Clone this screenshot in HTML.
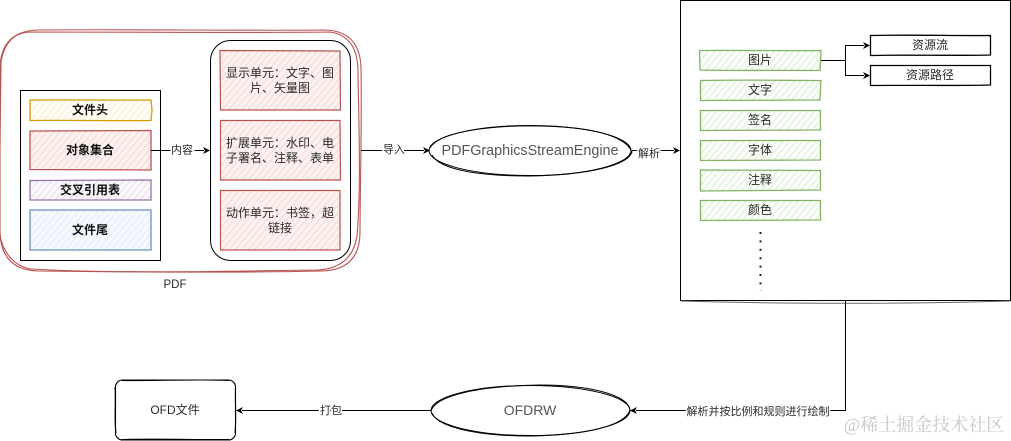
<!DOCTYPE html>
<html lang="zh">
<head>
<meta charset="utf-8">
<style>
html,body{margin:0;padding:0;background:#fff;width:1011px;height:441px;overflow:hidden}
svg{display:block}
text{font-family:"Liberation Sans","Noto Sans CJK SC",sans-serif;font-size:12px;fill:#2a2a2a;text-anchor:middle}
.b{font-weight:bold;fill:#111}
.lbl{font-size:11px;paint-order:stroke;stroke:#fff;stroke-width:3px}
</style>
</head>
<body>
<svg width="1011" height="441" viewBox="0 0 1011 441" xmlns="http://www.w3.org/2000/svg">
<defs>
<pattern id="hr" width="5" height="5" patternUnits="userSpaceOnUse" patternTransform="rotate(-50)"><rect width="5" height="5" fill="#fcf3f1"/><rect width="5" height="1.500" fill="#f6dfdc"/></pattern>
<pattern id="hy" width="5" height="5" patternUnits="userSpaceOnUse" patternTransform="rotate(-50)"><rect width="5" height="5" fill="#fffdf6"/><rect width="5" height="1.500" fill="#fcf3dc"/></pattern>
<pattern id="hp" width="5" height="5" patternUnits="userSpaceOnUse" patternTransform="rotate(-50)"><rect width="5" height="5" fill="#faf8fb"/><rect width="5" height="1.500" fill="#ece5ef"/></pattern>
<pattern id="hb" width="5" height="5" patternUnits="userSpaceOnUse" patternTransform="rotate(-50)"><rect width="5" height="5" fill="#f6fafe"/><rect width="5" height="1.500" fill="#e6f0fa"/></pattern>
<pattern id="hg" width="5" height="5" patternUnits="userSpaceOnUse" patternTransform="rotate(-50)"><rect width="5" height="5" fill="#fbfdf9"/><rect width="5" height="1.500" fill="#e6f1e1"/></pattern>
</defs>

<!-- Right panel -->
<rect x="680.500" y="0.500" width="330" height="300" fill="#fff" stroke="#000" stroke-width="1"/>
<path d="M681 301 C780 304 910 304 1010 301" fill="none" stroke="#666" stroke-width="1"/>

<!-- Outer PDF sketch -->
<g fill="none" stroke="#b85450" stroke-width="1.100">
<path d="M38 30 C130 29 250 31 325 30 Q360 31 361 68 C362 130 360 190 360 232 Q360 270 322 271 C230 273 120 272 38 271 Q1 270 0 232 L0 68 Q1 31 38 30Z"/>
<path d="M30 32 C130 32 250 33 330 32 Q358 36 358 72 C359 130 361 190 357 236 Q352 268 318 270 C230 271 120 274 30 269 Q2 262 -1 228 L1 62 Q6 33 30 32Z"/>
</g>
<text x="175" y="288" style="font-size:11.500px">PDF</text>

<!-- PDF structure -->
<rect x="20.500" y="90.500" width="140" height="170" fill="#fff" stroke="#000" stroke-width="1"/>
<g stroke-width="1.300">
<path d="M30 100 C70 99.500 120 100.500 151 100 L152 110 L151 120.500 C110 121 70 120 30 120.500Z" fill="url(#hy)" stroke="#d79b00"/>
<path d="M30 131 L151 130.500 L151 170 L30 169.500Z" fill="url(#hr)" stroke="#b85450"/>
<path d="M30 180.500 L151 180 L151 200 L30 200Z" fill="url(#hp)" stroke="#9673a6"/>
<path d="M30 210 L151 210 L151 250 L30 250Z" fill="url(#hb)" stroke="#6c8ebf"/>
</g>
<text class="b" x="90" y="114">文件头</text>
<text class="b" x="90" y="154">对象集合</text>
<text class="b" x="90" y="194">交叉引用表</text>
<text class="b" x="90" y="234">文件尾</text>

<!-- Unit container -->
<rect x="210.500" y="40.500" width="140" height="220" rx="20" fill="#fff" stroke="#000" stroke-width="1"/>
<g fill="url(#hr)" stroke="#b85450" stroke-width="1.200">
<path d="M220 50.500 L340 51 L340.500 110 L220.500 110Z"/>
<path d="M220.500 120.500 L340 120.500 L340.500 180 L220.500 180Z"/>
<path d="M220.500 190.500 L340 190.500 L340 250 L220.500 250Z"/>
</g>
<text x="280" y="77">显示单元：文字、图</text>
<text x="280" y="92">片、矢量图</text>
<text x="280" y="147">扩展单元：水印、电</text>
<text x="280" y="162">子署名、注释、表单</text>
<text x="280" y="217">动作单元：书签，超</text>
<text x="280" y="232">链接</text>

<!-- Green boxes -->
<g fill="url(#hg)" stroke="#82b366" stroke-width="1.300">
<path d="M699.500 50.500 C740 50 790 51 821 50.500 L820 70.500 C780 70 740 71 700 70Z"/>
<path d="M700.500 80.500 C740 79.500 790 80.500 821 80.500 L820 100 L700.500 100.500Z"/>
<path d="M700.500 110.500 L820.500 110.500 L820.500 130 L700.500 130.500Z"/>
<path d="M700.500 140.500 L820.500 140.500 L820.500 160 L700.500 160.500Z"/>
<path d="M700.500 170 L820.500 170.500 L820.500 190 L700.500 191Z"/>
<path d="M700.500 200.500 L820.500 200.500 L820.500 220 L700.500 220.500Z"/>
</g>
<text x="760" y="64">图片</text>
<text x="760" y="94">文字</text>
<text x="760" y="124">签名</text>
<text x="760" y="154">字体</text>
<text x="760" y="184">注释</text>
<text x="760" y="214">颜色</text>
<path d="M760.500 232V291" fill="none" stroke="#222" stroke-width="2" stroke-dasharray="2 6.400"/>

<!-- Resource boxes -->
<g fill="#fff" stroke="#000" stroke-width="1.300">
<path d="M870.500 35.500 C910 34.500 960 36 990.500 35.500 L990.500 55 C950 56 910 54.500 870.500 55.500Z"/>
<path d="M870.500 65.500 L990.500 65.500 L990.500 85 C950 86 910 85 870.500 85.500Z"/>
</g>
<text x="930" y="49">资源流</text>
<text x="930" y="79">资源路径</text>

<!-- Ellipse 1 -->
<g fill="none" stroke="#000" stroke-width="1">
<ellipse cx="530" cy="150.500" rx="101" ry="25" fill="#fff"/>
<path d="M430 148 C440 130 500 125 540 126 C590 127 625 135 632 152 C628 165 590 175 530 176 C480 176 440 170 432 155"/>
</g>
<text x="530" y="155" textLength="177" style="font-size:14.400px;fill:#555">PDFGraphicsStreamEngine</text>

<!-- OFDRW ellipse -->
<g fill="none" stroke="#000" stroke-width="1">
<ellipse cx="530.500" cy="410.500" rx="99.500" ry="25" fill="#fff"/>
<path d="M431 411 C436 395 480 386 540 385 C590 385 628 395 630 410 C625 425 590 435 530 436 C480 436 438 428 432 413"/>
</g>
<text x="530" y="415" style="font-size:14px;fill:#555">OFDRW</text>

<!-- OFD file -->
<g fill="#fff" stroke="#000" stroke-width="1.100">
<rect x="115.500" y="380" width="120" height="60" rx="7"/>
<path d="M122 380.500 C160 381 200 379 229 380.500 M122 439.500 C160 438.500 200 440 229 439.500 M115 387 C116 405 114 420 116 433 M235.500 387 C235 405 236.500 420 235 433" fill="none"/>
</g>
<text x="175" y="414">OFD文件</text>

<!-- Connectors -->
<g fill="none" stroke="#000" stroke-width="1">
<path d="M151 150.500H204"/>
<path d="M361 150.500H424"/>
<path d="M632 150.500H674"/>
<path d="M821 60.500H845.500V45.500H864"/>
<path d="M845.500 60.500V75.500H864"/>
<path d="M845.500 301V410.500H636"/>
<path d="M431 410.500H242"/>
</g>
<g fill="#000">
<path d="M210 150.500 L203 147 L205 150.500 L203 154Z"/>
<path d="M430 150.500 L423 147 L425 150.500 L423 154Z"/>
<path d="M680 150.500 L673 147 L675 150.500 L673 154Z"/>
<path d="M870 45.500 L863 42 L865 45.500 L863 49Z"/>
<path d="M870 75.500 L863 72 L865 75.500 L863 79Z"/>
<path d="M630 410.500 L637 407 L635 410.500 L637 414Z"/>
<path d="M236 410.500 L243 407 L241 410.500 L243 414Z"/>
</g>
<text class="lbl" x="182" y="153.500">内容</text>
<text class="lbl" x="394" y="153">导入</text>
<text class="lbl" x="649" y="157">解析</text>
<text class="lbl" x="331" y="414">打包</text>
<text class="lbl" x="758" y="415">解析并按比例和规则进行绘制</text>

<!-- Watermark -->
<text x="924" y="431" style="font-family:'Liberation Serif','Noto Serif CJK SC',serif;font-size:18px;fill:#c8c8c8">@稀土掘金技术社区</text>
</svg>
</body>
</html>
